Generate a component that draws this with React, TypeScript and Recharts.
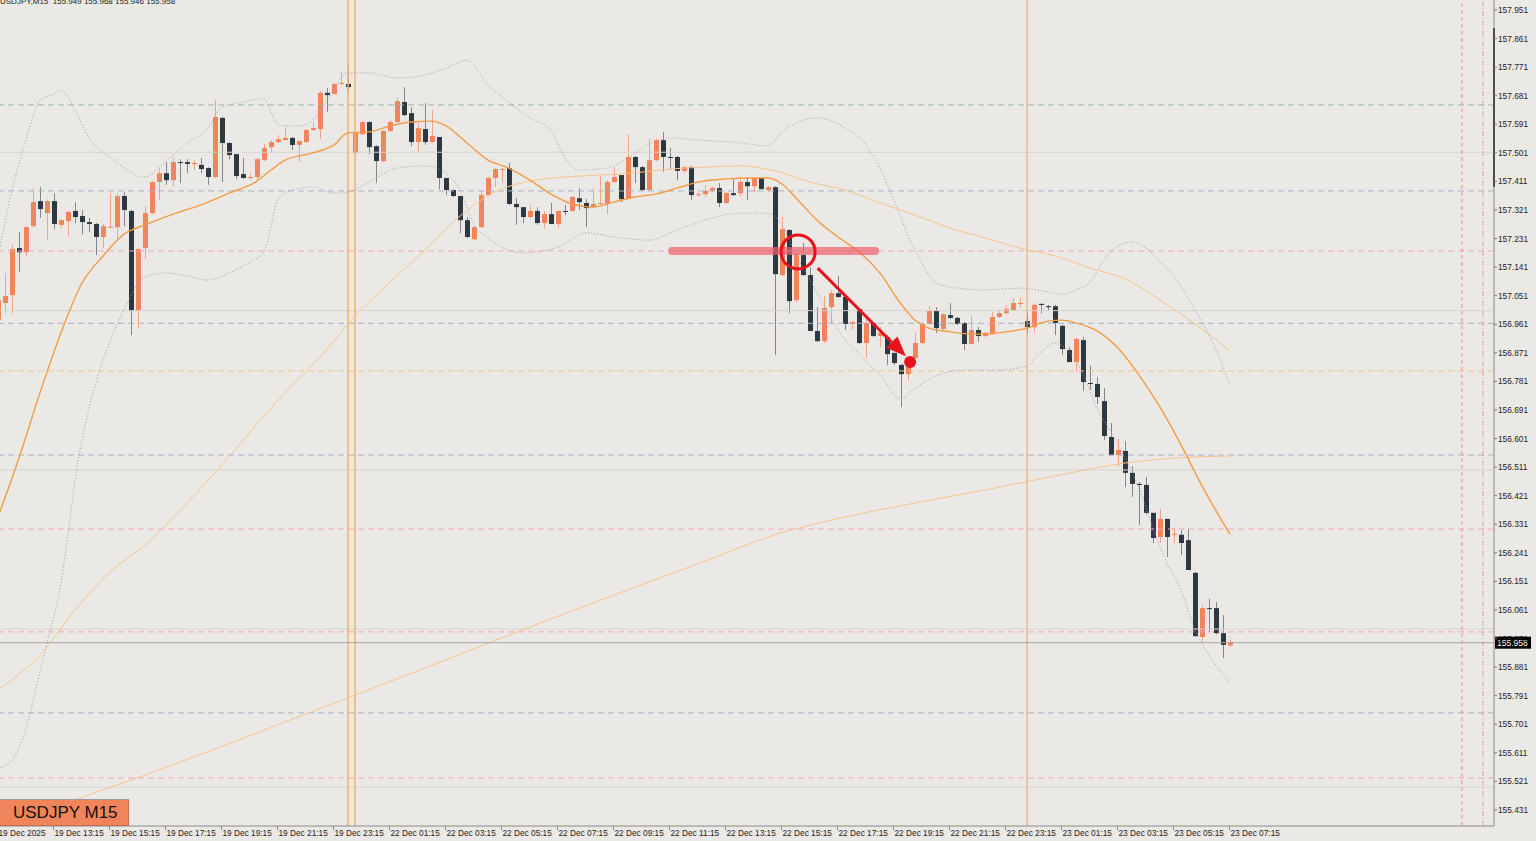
import React from "react";
import { ComposedChart, Bar, Line, XAxis, YAxis, ReferenceLine, ReferenceDot } from "recharts";

const BG = "#ebe9e5";
const BULL = "#f0845c";
const BULL_WICK = "#f2a485";
const BEAR = "#2e3840";
const BEAR_WICK = "#80858a";
const RED = "#e8121c";
const FONT = "'Liberation Sans', Arial, sans-serif";

const SYMBOL = "USDJPY";
const PERIOD = "M15";

// bar index of the first candle (partly cut off at the left edge)
const FIRST_K = -1;

const OPEN = [
  156.974, 157.028, 157.053, 157.201, 157.188, 157.270, 157.349, 157.311, 157.349, 157.274,
  157.286, 157.318, 157.302, 157.283, 157.277, 157.236, 157.267, 157.267, 157.365, 157.318,
  157.003, 157.201, 157.311, 157.409, 157.437, 157.415, 157.472, 157.472, 157.469, 157.463,
  157.453, 157.425, 157.611, 157.532, 157.497, 157.434, 157.422, 157.425, 157.478, 157.519,
  157.535, 157.541, 157.548, 157.526, 157.535, 157.573, 157.576, 157.690, 157.686, 157.718,
  157.718, 157.500, 157.560, 157.598, 157.522, 157.475, 157.570, 157.598, 157.661, 157.626,
  157.535, 157.576, 157.535, 157.551, 157.422, 157.384, 157.365, 157.289, 157.229, 157.267,
  157.368, 157.422, 157.447, 157.453, 157.340, 157.330, 157.299, 157.318, 157.280, 157.308,
  157.277, 157.318, 157.318, 157.358, 157.343, 157.330, 157.340, 157.340, 157.409, 157.431,
  157.358, 157.488, 157.456, 157.384, 157.478, 157.541, 157.488, 157.488, 157.444, 157.456,
  157.368, 157.371, 157.381, 157.390, 157.343, 157.374, 157.374, 157.409, 157.396, 157.422,
  157.384, 157.393, 157.116, 157.258, 157.037, 157.179, 157.116, 156.940, 156.908, 157.015,
  157.059, 157.047, 156.962, 157.009, 156.902, 156.965, 156.924, 156.921, 156.871, 156.833,
  156.804, 156.855, 156.902, 156.962, 157.003, 156.946, 156.990, 156.981, 156.965, 156.899,
  156.943, 156.924, 156.930, 156.984, 156.996, 157.006, 157.025, 156.971, 156.952, 157.025,
  157.018, 157.018, 156.956, 156.880, 156.842, 156.911, 156.776, 156.773, 156.719, 156.606,
  156.549, 156.562, 156.493, 156.458, 156.455, 156.367, 156.291, 156.348, 156.298, 156.298,
  156.281, 156.178, 155.976, 156.067, 156.067, 155.988, 155.949,
];
const HIGH = [
  157.060, 157.122, 157.211, 157.252, 157.270, 157.390, 157.393, 157.355, 157.374, 157.292,
  157.318, 157.346, 157.321, 157.296, 157.280, 157.277, 157.374, 157.374, 157.377, 157.321,
  157.201, 157.333, 157.412, 157.453, 157.472, 157.485, 157.481, 157.481, 157.478, 157.485,
  157.456, 157.667, 157.614, 157.535, 157.497, 157.485, 157.437, 157.485, 157.529, 157.541,
  157.557, 157.582, 157.551, 157.541, 157.576, 157.598, 157.696, 157.705, 157.721, 157.756,
  157.778, 157.566, 157.601, 157.601, 157.525, 157.573, 157.604, 157.674, 157.708, 157.645,
  157.595, 157.658, 157.636, 157.551, 157.422, 157.387, 157.365, 157.299, 157.270, 157.381,
  157.425, 157.453, 157.453, 157.469, 157.358, 157.330, 157.337, 157.330, 157.318, 157.343,
  157.318, 157.337, 157.365, 157.390, 157.355, 157.390, 157.431, 157.415, 157.456, 157.431,
  157.560, 157.491, 157.460, 157.545, 157.545, 157.567, 157.516, 157.491, 157.460, 157.460,
  157.377, 157.400, 157.393, 157.406, 157.377, 157.419, 157.425, 157.422, 157.425, 157.425,
  157.396, 157.396, 157.299, 157.261, 157.186, 157.217, 157.141, 157.015, 157.050, 157.069,
  157.113, 157.050, 156.971, 157.012, 156.984, 156.968, 156.953, 156.927, 156.871, 156.836,
  156.858, 156.934, 156.965, 157.018, 157.015, 156.996, 157.028, 156.984, 156.968, 156.990,
  156.953, 156.937, 156.999, 157.006, 157.022, 157.044, 157.044, 156.996, 157.028, 157.028,
  157.022, 157.022, 156.959, 156.889, 156.918, 156.921, 156.830, 156.795, 156.760, 156.650,
  156.600, 156.593, 156.514, 156.464, 156.480, 156.367, 156.379, 156.348, 156.319, 156.313,
  156.316, 156.181, 156.077, 156.096, 156.086, 156.045, 155.968,
];
const LOW = [
  156.940, 156.996, 156.996, 157.126, 157.173, 157.266, 157.296, 157.226, 157.261, 157.264,
  157.236, 157.280, 157.245, 157.252, 157.179, 157.201, 157.264, 157.226, 157.270, 156.927,
  156.949, 157.167, 157.308, 157.352, 157.400, 157.396, 157.406, 157.437, 157.447, 157.437,
  157.400, 157.422, 157.409, 157.481, 157.419, 157.419, 157.415, 157.415, 157.475, 157.504,
  157.532, 157.541, 157.510, 157.472, 157.532, 157.570, 157.545, 157.630, 157.686, 157.715,
  157.693, 157.497, 157.557, 157.497, 157.406, 157.472, 157.567, 157.595, 157.617, 157.522,
  157.504, 157.526, 157.532, 157.387, 157.368, 157.362, 157.248, 157.233, 157.226, 157.264,
  157.365, 157.393, 157.406, 157.337, 157.274, 157.280, 157.296, 157.274, 157.261, 157.277,
  157.264, 157.305, 157.315, 157.321, 157.267, 157.327, 157.337, 157.308, 157.406, 157.346,
  157.355, 157.406, 157.381, 157.381, 157.475, 157.441, 157.447, 157.415, 157.437, 157.352,
  157.362, 157.362, 157.377, 157.330, 157.340, 157.365, 157.362, 157.352, 157.377, 157.384,
  157.377, 156.864, 157.113, 156.996, 157.031, 157.113, 156.940, 156.905, 156.902, 156.965,
  157.044, 156.943, 156.943, 156.899, 156.855, 156.921, 156.889, 156.833, 156.833, 156.700,
  156.782, 156.852, 156.899, 156.959, 156.934, 156.943, 156.978, 156.959, 156.880, 156.896,
  156.905, 156.921, 156.927, 156.981, 156.993, 157.003, 157.015, 156.934, 156.934, 156.996,
  157.003, 156.927, 156.864, 156.842, 156.811, 156.751, 156.754, 156.710, 156.596, 156.549,
  156.511, 156.448, 156.417, 156.329, 156.363, 156.272, 156.272, 156.228, 156.272, 156.234,
  156.187, 155.976, 155.960, 155.992, 155.985, 155.910, 155.946,
];
const CLOSE = [
  157.037, 157.050, 157.198, 157.188, 157.267, 157.346, 157.324, 157.349, 157.277, 157.289,
  157.315, 157.299, 157.283, 157.277, 157.236, 157.270, 157.268, 157.365, 157.321, 157.003,
  157.198, 157.311, 157.409, 157.437, 157.415, 157.472, 157.469, 157.466, 157.469, 157.450,
  157.425, 157.614, 157.532, 157.494, 157.428, 157.422, 157.425, 157.481, 157.516, 157.535,
  157.544, 157.548, 157.526, 157.538, 157.573, 157.579, 157.690, 157.683, 157.718, 157.721,
  157.708, 157.563, 157.598, 157.519, 157.475, 157.570, 157.598, 157.664, 157.620, 157.535,
  157.579, 157.535, 157.554, 157.422, 157.384, 157.365, 157.289, 157.236, 157.267, 157.368,
  157.422, 157.450, 157.450, 157.340, 157.330, 157.299, 157.318, 157.280, 157.308, 157.277,
  157.318, 157.315, 157.362, 157.346, 157.327, 157.340, 157.343, 157.409, 157.425, 157.355,
  157.488, 157.456, 157.384, 157.478, 157.541, 157.488, 157.485, 157.444, 157.456, 157.368,
  157.371, 157.381, 157.390, 157.343, 157.374, 157.368, 157.409, 157.396, 157.422, 157.387,
  157.393, 157.119, 157.261, 157.034, 157.182, 157.116, 156.940, 156.908, 157.012, 157.059,
  157.047, 156.962, 156.968, 156.902, 156.965, 156.924, 156.934, 156.867, 156.839, 156.804,
  156.855, 156.902, 156.962, 157.003, 156.949, 156.993, 156.981, 156.962, 156.899, 156.943,
  156.924, 156.934, 156.984, 156.996, 157.009, 157.028, 157.028, 156.952, 157.022, 157.022,
  157.015, 156.965, 156.883, 156.842, 156.915, 156.779, 156.773, 156.732, 156.609, 156.549,
  156.565, 156.493, 156.458, 156.455, 156.367, 156.288, 156.348, 156.291, 156.301, 156.272,
  156.187, 155.979, 156.067, 156.064, 155.988, 155.951, 155.958,
];

// [bar index, value]
const MA_FAST: [number, number][] = [
  [-1, 156.354], [2, 156.540], [5, 156.745], [8, 156.934], [11, 157.091], [14, 157.176],
  [17, 157.245], [20, 157.274], [24, 157.308], [28, 157.337], [32, 157.374], [36, 157.412],
  [38, 157.447], [40, 157.478], [44, 157.501], [47, 157.526], [49, 157.564], [52, 157.567],
  [55, 157.586], [58, 157.598], [61, 157.601], [63, 157.586], [66, 157.532], [69, 157.478],
  [72, 157.453], [75, 157.415], [78, 157.371], [81, 157.340], [84, 157.330], [87, 157.346],
  [90, 157.362], [93, 157.371], [96, 157.390], [99, 157.409], [103, 157.419], [107, 157.422],
  [109, 157.422], [111, 157.403], [113, 157.359], [116, 157.289], [119, 157.236], [122, 157.189],
  [125, 157.122], [128, 157.025], [130, 156.974], [132, 156.949], [135, 156.937], [139, 156.930],
  [143, 156.937], [146, 156.949], [149, 156.971], [151, 156.974], [153, 156.965], [156, 156.940],
  [159, 156.886], [162, 156.801], [165, 156.700], [168, 156.581], [171, 156.452], [173, 156.373],
  [175, 156.300],
];
const MA_MID: [number, number][] = [
  [-1, 155.809], [5, 155.919], [10, 156.061], [15, 156.181], [20, 156.266], [25, 156.375],
  [30, 156.493], [35, 156.622], [40, 156.745], [45, 156.858],
  [50, 156.987], [55, 157.094], [60, 157.195], [65, 157.302], [70, 157.378], [75, 157.412],
  [80, 157.425], [85, 157.431], [90, 157.438], [95, 157.450], [100, 157.456], [105, 157.460],
  [110, 157.444], [115, 157.409], [120, 157.384], [125, 157.343], [130, 157.305], [135, 157.264],
  [140, 157.233], [145, 157.201], [150, 157.176], [155, 157.138], [160, 157.104], [165, 157.037],
  [170, 156.962], [175, 156.877],
];
const MA_SLOW: [number, number][] = [
  [3, 155.403], [10, 155.463], [20, 155.541], [30, 155.623], [40, 155.708], [50, 155.793],
  [60, 155.878], [70, 155.965], [80, 156.050], [90, 156.133], [100, 156.215], [110, 156.298],
  [120, 156.354], [130, 156.398], [140, 156.439], [150, 156.483], [160, 156.524], [170, 156.543],
  [175, 156.546],
];
const BB_UPPER: [number, number][] = [
  [-1, 157.170], [1, 157.384], [3, 157.541], [5, 157.667], [7, 157.686], [8, 157.699],
  [10, 157.636], [12, 157.548], [15, 157.488], [20, 157.425], [23, 157.475], [26, 157.532],
  [29, 157.579], [31, 157.645], [34, 157.661], [37, 157.671], [38, 157.630], [39, 157.589],
  [42, 157.586], [44, 157.604], [46, 157.667], [49, 157.753], [52, 157.753], [56, 157.737],
  [60, 157.746], [63, 157.768], [66, 157.793], [69, 157.715], [72, 157.661], [75, 157.611],
  [78, 157.573], [80, 157.485], [82, 157.447], [86, 157.453], [89, 157.485], [92, 157.529],
  [95, 157.548], [99, 157.541], [104, 157.535], [109, 157.523], [111, 157.567], [113, 157.595],
  [116, 157.611], [120, 157.579], [123, 157.526], [125, 157.453], [127, 157.352], [129, 157.242],
  [131, 157.154], [133, 157.091], [136, 157.075], [140, 157.069], [145, 157.075], [149, 157.063],
  [151, 157.056], [153, 157.069], [155, 157.094], [157, 157.163], [159, 157.208], [161, 157.220],
  [163, 157.201], [165, 157.157], [167, 157.113], [169, 157.044], [171, 156.968], [173, 156.880],
  [175, 156.770],
];
const BB_LOWER: [number, number][] = [
  [-1, 155.563], [1, 155.588], [3, 155.689], [5, 155.866], [6, 155.957], [8, 156.146],
  [9, 156.297], [10, 156.470], [11, 156.596], [12, 156.697], [14, 156.848],
  [17, 157.006], [20, 157.110], [23, 157.123], [26, 157.113], [29, 157.100], [32, 157.123],
  [35, 157.157], [37, 157.189], [39, 157.352], [41, 157.384], [44, 157.393], [47, 157.374],
  [49, 157.378], [52, 157.409], [56, 157.453], [60, 157.460], [63, 157.437], [65, 157.384],
  [67, 157.274], [69, 157.233], [74, 157.186], [79, 157.204], [83, 157.249], [87, 157.236],
  [92, 157.226], [96, 157.258], [101, 157.296], [105, 157.311], [109, 157.311], [111, 157.274],
  [113, 157.179], [115, 157.100], [117, 157.022], [119, 156.943], [122, 156.867], [125, 156.801],
  [128, 156.726], [130, 156.760], [133, 156.798], [137, 156.817], [142, 156.817], [146, 156.830],
  [148, 156.874], [150, 156.902], [152, 156.874], [154, 156.804], [156, 156.697], [158, 156.622],
  [160, 156.540], [162, 156.445], [164, 156.319], [166, 156.209], [168, 156.124], [170, 155.998],
  [172, 155.919], [175, 155.834],
];

const PRICE_TICKS = [
  157.951, 157.861, 157.771, 157.681, 157.591, 157.501, 157.411, 157.321, 157.231, 157.141,
  157.051, 156.961, 156.871, 156.781, 156.691, 156.601, 156.511, 156.421, 156.331, 156.241,
  156.151, 156.061, 155.971, 155.881, 155.791, 155.701, 155.611, 155.521, 155.431,
];
const TIME_TICK_K = [-1, 7, 15, 23, 31, 39, 47, 55, 63, 71, 79, 87, 95, 103, 111, 119, 127, 135, 143, 151, 159, 167, 175];
const TIME_LABELS = [
  "19 Dec 2025", "19 Dec 13:15", "19 Dec 15:15", "19 Dec 17:15", "19 Dec 19:15", "19 Dec 21:15",
  "19 Dec 23:15", "22 Dec 01:15", "22 Dec 03:15", "22 Dec 05:15", "22 Dec 07:15", "22 Dec 09:15",
  "22 Dec 11:15", "22 Dec 13:15", "22 Dec 15:15", "22 Dec 17:15", "22 Dec 19:15", "22 Dec 21:15",
  "22 Dec 23:15", "23 Dec 01:15", "23 Dec 03:15", "23 Dec 05:15", "23 Dec 07:15",
];

// horizontal levels
const SOLID_LEVELS = [157.503, 157.004, 156.502, 156.001, 155.503];
const PINK_LEVELS = [157.192, 156.316, 155.992, 155.532];
const BLUE_LEVELS = [157.381, 156.964, 156.549, 155.737];
const GREEN_LEVELS = [157.652];
const AMBER_LEVELS = [156.814];
// vertical markers (bar index)
const SESSION_K = [49, 50];
const DAY_K = [146];
const FUTURE_K = [208.14, 211.14];

// hand-drawn annotations
const ZONE = { k1: 95.3, k2: 124.3, price: 157.192 };
const RING = { k: 113.3, price: 157.189 };
const ARROW = { k1: 116.1, p1: 157.138, k2: 128.7, p2: 156.860 };
const DOT = { k: 129.3, price: 156.842 };
const SCROLL_MARK = { top: 157.894, bottom: 157.394 };

const X_DOMAIN: [number, number] = [-0.714, 212.714];
const Y_DOMAIN: [number, number] = [155.3806, 157.9825];

const rows: any[] = OPEN.map((o, i) => ({
  k: i + FIRST_K,
  open: o,
  high: HIGH[i],
  low: LOW[i],
  close: CLOSE[i],
}));
const addSeries = (key: string, pts: [number, number][]) => {
  pts.forEach(([k, v]) => {
    const r = rows[k - FIRST_K];
    if (r) r[key] = v;
  });
};
addSeries("maFast", MA_FAST);
addSeries("maMid", MA_MID);
addSeries("maSlow", MA_SLOW);
addSeries("bbUp", BB_UPPER);
addSeries("bbLo", BB_LOWER);

const last = rows[rows.length - 1];

function Candle(props: any) {
  const { x, y, width, height, payload } = props;
  if (x == null || payload == null) return null;
  const { open, close, high, low } = payload;
  const top = Math.min(y, y + height);
  const h = Math.abs(height);
  const ppu = high > low ? h / (high - low) : 0;
  const cx = Math.round(x + width / 2);
  const yO = top + (high - open) * ppu;
  const yC = top + (high - close) * ppu;
  const up = close >= open;
  const bTop = Math.min(yO, yC);
  const bH = Math.max(1, Math.abs(yO - yC));
  return (
    <g>
      <line x1={cx + 0.5} x2={cx + 0.5} y1={top} y2={top + h} stroke={up ? BULL_WICK : BEAR_WICK} strokeWidth={1} />
      <rect x={cx - 2} y={bTop} width={5} height={bH} fill={up ? BULL : BEAR} />
    </g>
  );
}

function TimeTick(props: any) {
  const { x, y, payload } = props;
  const idx = TIME_TICK_K.indexOf(payload.value);
  return (
    <g>
      <line x1={x - 0.5} x2={x - 0.5} y1={y} y2={y + 4} stroke="#8a8a8a" />
      <text x={x + 0.5} y={y + 9.5} fontSize={8.3} fontFamily={FONT} fill="#222">
        {TIME_LABELS[idx]}
      </text>
    </g>
  );
}

function PriceTag(props: any) {
  const vb = props.viewBox || {};
  const x = (vb.x || 0) + (vb.width || 0);
  const y = vb.y || 0;
  return (
    <g>
      <rect x={x + 1} y={y - 6} width={36} height={12} fill="#000" />
      <text x={x + 3} y={y + 3} fontSize={8.5} fontFamily={FONT} fill="#fff">
        {last.close.toFixed(3)}
      </text>
    </g>
  );
}

function ArrowShape(props: any) {
  const { x1, y1, x2, y2 } = props;
  const ang = Math.atan2(y2 - y1, x2 - x1);
  const len = 20;
  const half = 8;
  const bx = x2 - len * Math.cos(ang);
  const by = y2 - len * Math.sin(ang);
  const px = -Math.sin(ang) * half;
  const py = Math.cos(ang) * half;
  return (
    <g>
      <line x1={x1} y1={y1} x2={bx} y2={by} stroke={RED} strokeWidth={3} />
      <polygon points={`${x2},${y2} ${bx + px},${by + py} ${bx - px},${by - py}`} fill={RED} />
    </g>
  );
}

export default function App() {
  const levelLine = (p: number, stroke: string, dash?: string) => (
    <ReferenceLine key={`${stroke}-${p}`} y={p} stroke={stroke} strokeWidth={1} strokeDasharray={dash} />
  );

  return (
    <div style={{ position: "absolute", left: 0, top: 0, width: 1536, height: 841, background: BG, overflow: "hidden" }}>
      <ComposedChart width={1536} height={841} data={rows} margin={{ top: 0, right: 0, bottom: 0, left: 0 }}>
        <XAxis
          dataKey="k"
          type="number"
          domain={X_DOMAIN}
          allowDataOverflow
          ticks={TIME_TICK_K}
          interval={0}
          height={15}
          tickSize={0}
          tickMargin={0}
          tickLine={false}
          axisLine={{ stroke: "#8a8a8a" }}
          tick={<TimeTick />}
        />
        <YAxis
          orientation="right"
          type="number"
          domain={Y_DOMAIN}
          allowDataOverflow
          ticks={PRICE_TICKS}
          interval={0}
          width={42}
          tickSize={3}
          tickMargin={1}
          tickLine={{ stroke: "#777" }}
          axisLine={{ stroke: "#8a8a8a" }}
          tick={{ fontSize: 8.3, fill: "#222", fontFamily: FONT }}
          tickFormatter={(v: number) => v.toFixed(3)}
        />

        {SOLID_LEVELS.map((p) => levelLine(p, "#d6d3cf"))}
        {PINK_LEVELS.map((p) => levelLine(p, "#f0a9bf", "6 4"))}
        {BLUE_LEVELS.map((p) => levelLine(p, "#a9b3c6", "6 4"))}
        {GREEN_LEVELS.map((p) => levelLine(p, "#a3b7a3", "6 4"))}
        {AMBER_LEVELS.map((p) => levelLine(p, "#f0c48c", "6 4"))}

        {SESSION_K.map((k) => (
          <ReferenceLine key={`s${k}`} x={k} stroke="#f2b266" strokeWidth={1.5} />
        ))}
        {DAY_K.map((k) => (
          <ReferenceLine key={`d${k}`} x={k} stroke="#e9a458" strokeWidth={1} />
        ))}
        <ReferenceLine x={FUTURE_K[0]} stroke="#ee8a8a" strokeDasharray="4 3" />
        <ReferenceLine x={FUTURE_K[1]} stroke="#ee9a9a" strokeDasharray="5 2 1 2" />

        <Line dataKey="bbUp" type="monotone" stroke="#9d9cae" strokeWidth={1} strokeDasharray="1 2" dot={false} activeDot={false} connectNulls isAnimationActive={false} />
        <Line dataKey="bbLo" type="monotone" stroke="#9d9cae" strokeWidth={1} strokeDasharray="1 2" dot={false} activeDot={false} connectNulls isAnimationActive={false} />
        <Line dataKey="maSlow" type="monotone" stroke="#f6c58e" strokeWidth={1} dot={false} activeDot={false} connectNulls isAnimationActive={false} />
        <Line dataKey="maMid" type="monotone" stroke="#f6c58e" strokeWidth={1} dot={false} activeDot={false} connectNulls isAnimationActive={false} />
        <Line dataKey="maFast" type="monotone" stroke="#f39b45" strokeWidth={1.4} dot={false} activeDot={false} connectNulls isAnimationActive={false} />

        <Bar dataKey={(d: any) => [d.low, d.high]} barSize={5} shape={<Candle />} isAnimationActive={false} />

        <ReferenceLine y={last.close} stroke="#a4a4a4" strokeWidth={1} label={PriceTag} />
        <ReferenceLine
          segment={[{ x: X_DOMAIN[1], y: SCROLL_MARK.top }, { x: X_DOMAIN[1], y: SCROLL_MARK.bottom }]}
          stroke="#111"
          strokeWidth={2}
          ifOverflow="visible"
        />

        <ReferenceLine
          segment={[{ x: ZONE.k1, y: ZONE.price }, { x: ZONE.k2, y: ZONE.price }]}
          stroke="#f0606e"
          strokeOpacity={0.7}
          strokeWidth={8}
          strokeLinecap="round"
        />
        <ReferenceDot x={RING.k} y={RING.price} r={17} fill="none" stroke={RED} strokeWidth={3} />
        <ReferenceLine
          segment={[{ x: ARROW.k1, y: ARROW.p1 }, { x: ARROW.k2, y: ARROW.p2 }]}
          shape={ArrowShape}
        />
        <ReferenceDot x={DOT.k} y={DOT.price} r={6} fill={RED} stroke="none" />
      </ComposedChart>

      <div
        style={{
          position: "absolute",
          left: 0,
          top: -3,
          fontFamily: FONT,
          fontSize: 8,
          color: "#222",
          whiteSpace: "pre",
        }}
      >
        {`${SYMBOL},${PERIOD}  ${last.open.toFixed(3)} ${last.high.toFixed(3)} ${last.low.toFixed(3)} ${last.close.toFixed(3)}`}
      </div>

      <div
        style={{
          position: "absolute",
          left: 0,
          top: 799,
          width: 129,
          height: 27,
          background: "#f0855c",
          borderTop: "1px solid #9a9a9a",
          borderRight: "1px solid #c8704e",
          borderBottom: "1px solid #c8704e",
          fontFamily: FONT,
          fontSize: 17,
          lineHeight: "25px",
          color: "#111",
          paddingLeft: 13,
          boxSizing: "border-box",
        }}
      >
        {`${SYMBOL} ${PERIOD}`}
      </div>
    </div>
  );
}
